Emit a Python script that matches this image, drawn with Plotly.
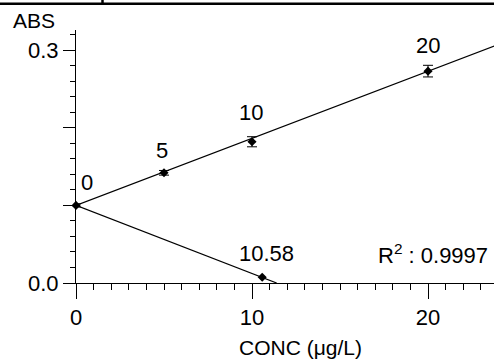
import plotly.graph_objects as go

# ---- data ----
std_conc = [0, 5, 10, 20]
std_abs = [0.100, 0.142, 0.182, 0.273]
std_err = [0.002, 0.003, 0.0065, 0.0075]
std_labels = ["0", "5", "10", "20"]

sample_conc = [10.58]
sample_abs = [0.0075]
sample_label = ["10.58"]

fit_x = [0, 24]
fit_y = [0.100, 0.3075]
ext_x = [0, 11.4]
ext_y = [0.100, 0.0]

r2_text = "R<sup>2</sup> : 0.9997"
x_ticks = [0, 10, 20]
y_label_ticks = [0.0, 0.3]
y_label_text = ["0.0", "0.3"]
y_unlabeled_ticks = [0.1, 0.2]

FONT = "Liberation Sans, Arial, sans-serif"
FS = 22
Y_RANGE = [0, 0.326]

fig = go.Figure()
fig.add_trace(go.Scatter(x=fit_x, y=fit_y, mode="lines",
                         line=dict(color="black", width=1.2), showlegend=False))
fig.add_trace(go.Scatter(x=ext_x, y=ext_y, mode="lines", yaxis="y2",
                         line=dict(color="black", width=1.2), showlegend=False))
fig.add_trace(go.Scatter(x=std_conc, y=std_abs, mode="markers",
                         marker=dict(symbol="diamond", size=7, color="black"),
                         error_y=dict(type="data", array=std_err, color="black",
                                      thickness=1, width=5),
                         cliponaxis=False, showlegend=False))
fig.add_trace(go.Scatter(x=sample_conc, y=sample_abs, mode="markers",
                         marker=dict(symbol="diamond", size=7, color="black"),
                         cliponaxis=False, showlegend=False))

shifts = [(11, 23), (-2, 22), (-1, 29), (0, 26)]
for xv, yv, t, (dx, dy) in zip(std_conc, std_abs, std_labels, shifts):
    fig.add_annotation(x=xv, y=yv, text=t, showarrow=False, xshift=dx, yshift=dy,
                       font=dict(family=FONT, size=FS, color="black"))
for xv, yv, t in zip(sample_conc, sample_abs, sample_label):
    fig.add_annotation(x=xv, y=yv, text=t, showarrow=False, xshift=4, yshift=24,
                       font=dict(family=FONT, size=FS, color="black"))

fig.add_annotation(xref="paper", yref="paper", x=0.99, y=0.1146, text=r2_text,
                   showarrow=False, xanchor="right", yanchor="middle",
                   font=dict(family=FONT, size=FS, color="black"))
fig.add_annotation(xref="paper", yref="paper", x=-0.0993, y=1.0356, text="ABS",
                   showarrow=False, xanchor="center", yanchor="middle",
                   font=dict(family=FONT, size=21, color="black"))
fig.add_annotation(xref="paper", yref="paper", x=0.538, y=-0.253, text="CONC (μg/L)",
                   showarrow=False, xanchor="center", yanchor="middle",
                   font=dict(family=FONT, size=21, color="black"))

# top border lines
fig.add_shape(type="line", xref="paper", yref="paper", x0=-0.19, x1=1.01,
              y0=1.1038, y1=1.1038, line=dict(color="black", width=2.5))
fig.add_shape(type="line", xref="paper", yref="paper", x0=0.0634, x1=0.0634,
              y0=1.1038, y1=1.13, line=dict(color="black", width=2.5))

fig.update_layout(
    xaxis=dict(range=[0, 23.75], tickmode="array", tickvals=x_ticks,
               showline=True, linecolor="black", linewidth=1,
               ticks="outside", ticklen=15, tickcolor="black", tickwidth=1,
               showgrid=False, zeroline=False,
               tickfont=dict(family=FONT, size=FS, color="black"),
               minor=dict(dtick=1, tick0=0, ticks="outside", ticklen=6,
                          tickcolor="black", tickwidth=1, showgrid=False)),
    yaxis=dict(range=Y_RANGE, tickmode="array", tickvals=y_label_ticks,
               ticktext=y_label_text,
               showline=True, linecolor="black", linewidth=1,
               ticks="outside", ticklen=12, tickcolor="black", tickwidth=1,
               showgrid=False, zeroline=False,
               tickfont=dict(family=FONT, size=FS, color="black"),
               minor=dict(dtick=0.02, tick0=0, ticks="outside", ticklen=5,
                          tickcolor="black", tickwidth=1, showgrid=False)),
    yaxis2=dict(range=Y_RANGE, overlaying="y", side="left", anchor="x",
                tickmode="array", tickvals=y_unlabeled_ticks,
                showticklabels=False, showline=False,
                ticks="outside", ticklen=12, tickcolor="black", tickwidth=1,
                showgrid=False, zeroline=False),
    width=494, height=359,
    margin=dict(l=76, r=0, t=30, b=76, autoexpand=False),
    paper_bgcolor="white", plot_bgcolor="white",
    hovermode=False,
    font=dict(family=FONT, size=FS, color="black"),
)

fig.write_html("out.html",
               config={"displayModeBar": False, "staticPlot": True},
               post_script="document.body.style.margin='0px';document.body.style.overflow='hidden';")
